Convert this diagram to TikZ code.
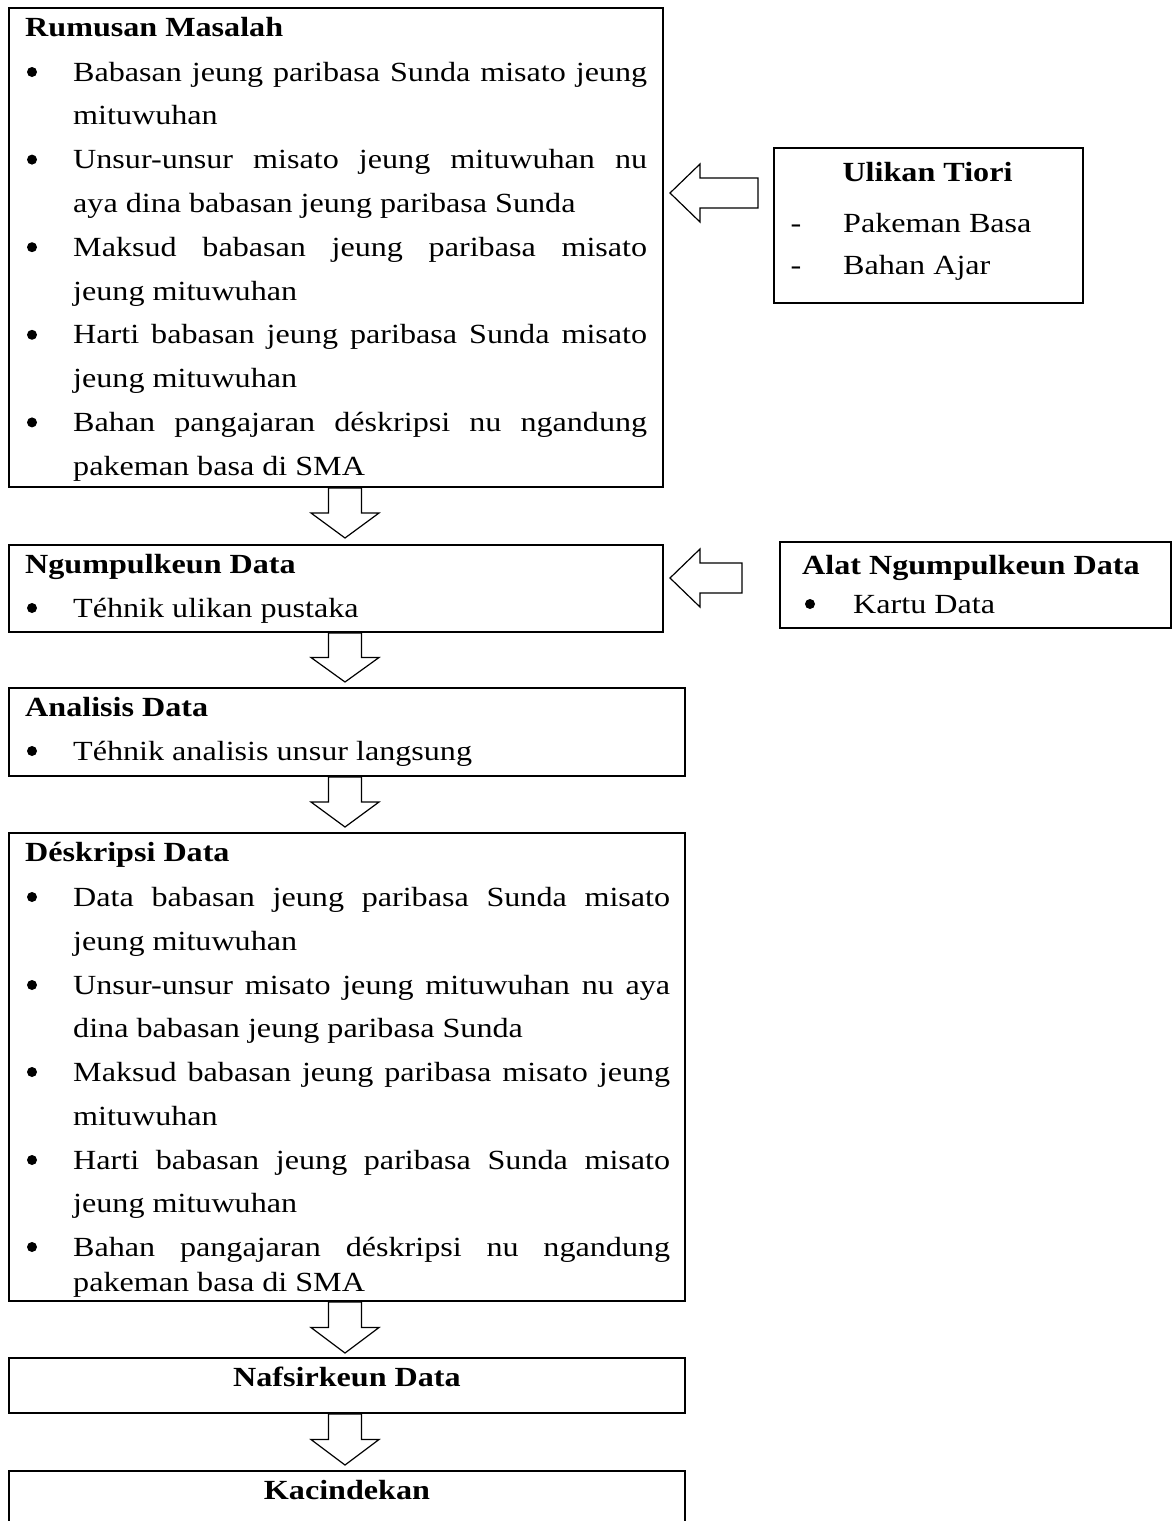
\documentclass[tikz,border=0pt]{standalone}
\usepackage{fontspec}
\setmainfont{Liberation Serif}[FakeStretch=1.16]
\usetikzlibrary{calc}
\newcommand{\fsz}{\fontsize{27.7pt}{43.8pt}\selectfont}
\newcommand{\jA}[1]{\makebox[574pt][s]{#1}}
\newcommand{\jB}[1]{\makebox[597pt][s]{#1}}
\newcommand{\downarr}[2]{%
  \draw[harrow] let \p1=(#1), \p2=(#2), \n1={(\y1+\y2)/2} in
    (\x1-16.5pt,\y1) -- (\x1+16.5pt,\y1) -- (\x1+16.5pt,\n1) -- (\x1+34pt,\n1)
    -- (\x2,\y2) -- (\x1-34pt,\n1) -- (\x1-16.5pt,\n1) -- cycle;}
\newcommand{\leftarr}[2]{%
  \draw[harrow] let \p1=(#1), \p2=(#2) in
    (\x1,\y1+15pt) -- (\x2+30pt,\y1+15pt) -- (\x2+30pt,\y1+29pt) -- (\x2,\y2)
    -- (\x2+30pt,\y1-29pt) -- (\x2+30pt,\y1-15pt) -- (\x1,\y1-15pt) -- cycle;}
\begin{document}
\begin{tikzpicture}[x=1pt,y=-1pt,
  box/.style={draw=black, line width=2pt, rectangle, anchor=north west, inner sep=0pt},
  harrow/.style={draw=black, line width=1.2pt, fill=white, line join=miter},
  txt/.style={inner sep=0pt, font=\fsz, anchor=base west},
  ttl/.style={inner sep=0pt, font=\fsz\bfseries, anchor=base west},
  ctl/.style={inner sep=0pt, font=\fsz\bfseries, anchor=base},
  dsh/.style={inner sep=0pt, font=\fsz, anchor=base},
  bul/.style={circle, fill=black, inner sep=0pt, minimum size=10pt}]
\useasboundingbox[fill=white] (0,0) rectangle (1172,1521);

% ---------- Rumusan Masalah ----------
\node[box, minimum width=654pt, minimum height=479pt] (rm) at (8,7) {};
\node[ttl] (rmt) at (25,36) {Rumusan Masalah};
\node[bul] (rmb1) at (32,81-9) {};
\node[txt] (rm1) at (73,81) {\jA{Babasan jeung paribasa Sunda misato jeung}};
\node[txt] (rm2) at (73,124.8) {mituwuhan};
\node[bul] (rmb2) at (32,168.6-9) {};
\node[txt] (rm3) at (73,168.6) {\jA{Unsur-unsur misato jeung mituwuhan nu}};
\node[txt] (rm4) at (73,212.4) {aya dina babasan jeung paribasa Sunda};
\node[bul] (rmb3) at (32,256.2-9) {};
\node[txt] (rm5) at (73,256.2) {\jA{Maksud babasan jeung paribasa misato}};
\node[txt] (rm6) at (73,300) {jeung mituwuhan};
\node[bul] (rmb4) at (32,343.8-9) {};
\node[txt] (rm7) at (73,343.8) {\jA{Harti babasan jeung paribasa Sunda misato}};
\node[txt] (rm8) at (73,387.6) {jeung mituwuhan};
\node[bul] (rmb5) at (32,431.4-9) {};
\node[txt] (rm9) at (73,431.4) {\jA{Bahan pangajaran déskripsi nu ngandung}};
\node[txt] (rm10) at (73,475) {pakeman basa di SMA};

% ---------- Ulikan Tiori ----------
\node[box, minimum width=309pt, minimum height=155pt] (ut) at (773,147) {};
\node[ctl] (utt) at (927.5,181) {Ulikan Tiori};
\node[dsh] (utd1) at (796,232) {-};
\node[txt] (ut1) at (843,232) {Pakeman Basa};
\node[dsh] (utd2) at (796,274) {-};
\node[txt] (ut2) at (843,274) {Bahan Ajar};

\coordinate (l1s) at (758,193);
\coordinate (l1e) at (670,193);
\leftarr{l1s}{l1e}

% ---------- Ngumpulkeun Data ----------
\node[box, minimum width=654pt, minimum height=87pt] (ng) at (8,544) {};
\node[ttl] (ngt) at (25,573) {Ngumpulkeun Data};
\node[bul] (ngb1) at (32,617-9) {};
\node[txt] (ng1) at (73,617) {Téhnik ulikan pustaka};

% ---------- Alat Ngumpulkeun Data ----------
\node[box, minimum width=391pt, minimum height=86pt] (al) at (779,541) {};
\node[ttl] (alt) at (802,574) {Alat Ngumpulkeun Data};
\node[bul] (alb1) at (810,613-9) {};
\node[txt] (al1) at (853,613) {Kartu Data};

\coordinate (l2s) at (742,578);
\coordinate (l2e) at (670,578);
\leftarr{l2s}{l2e}

% ---------- Analisis Data ----------
\node[box, minimum width=676pt, minimum height=88pt] (an) at (8,687) {};
\node[ttl] (ant) at (25,716) {Analisis Data};
\node[bul] (anb1) at (32,760-9) {};
\node[txt] (an1) at (73,760) {Téhnik analisis unsur langsung};

% ---------- Deskripsi Data ----------
\node[box, minimum width=676pt, minimum height=468pt] (de) at (8,832) {};
\node[ttl] (det) at (25,861) {Déskripsi Data};
\node[bul] (deb1) at (32,906-9) {};
\node[txt] (de1) at (73,906) {\jB{Data babasan jeung paribasa Sunda misato}};
\node[txt] (de2) at (73,950) {jeung mituwuhan};
\node[bul] (deb2) at (32,994-9) {};
\node[txt] (de3) at (73,994) {\jB{Unsur-unsur misato jeung mituwuhan nu aya}};
\node[txt] (de4) at (73,1037.5) {dina babasan jeung paribasa Sunda};
\node[bul] (deb3) at (32,1081-9) {};
\node[txt] (de5) at (73,1081) {\jB{Maksud babasan jeung paribasa misato jeung}};
\node[txt] (de6) at (73,1125) {mituwuhan};
\node[bul] (deb4) at (32,1169-9) {};
\node[txt] (de7) at (73,1169) {\jB{Harti babasan jeung paribasa Sunda misato}};
\node[txt] (de8) at (73,1212.5) {jeung mituwuhan};
\node[bul] (deb5) at (32,1256-9) {};
\node[txt] (de9) at (73,1256) {\jB{Bahan pangajaran déskripsi nu ngandung}};
\node[txt] (de10) at (73,1291) {pakeman basa di SMA};

% ---------- Nafsirkeun Data ----------
\node[box, minimum width=676pt, minimum height=55pt] (na) at (8,1357) {};
\node[ctl] (nat) at (347,1386) {Nafsirkeun Data};

% ---------- Kacindekan ----------
\node[box, minimum width=676pt, minimum height=90pt] (ka) at (8,1470) {};
\node[ctl] (kat) at (347,1499) {Kacindekan};

% ---------- down arrows ----------
\coordinate (d1s) at (345,488);  \coordinate (d1e) at (345,538);
\coordinate (d2s) at (345,633);  \coordinate (d2e) at (345,682);
\coordinate (d3s) at (345,777);  \coordinate (d3e) at (345,827);
\coordinate (d4s) at (345,1302); \coordinate (d4e) at (345,1353);
\coordinate (d5s) at (345,1414); \coordinate (d5e) at (345,1465);
\downarr{d1s}{d1e}
\downarr{d2s}{d2e}
\downarr{d3s}{d3e}
\downarr{d4s}{d4e}
\downarr{d5s}{d5e}
\end{tikzpicture}
\end{document}
